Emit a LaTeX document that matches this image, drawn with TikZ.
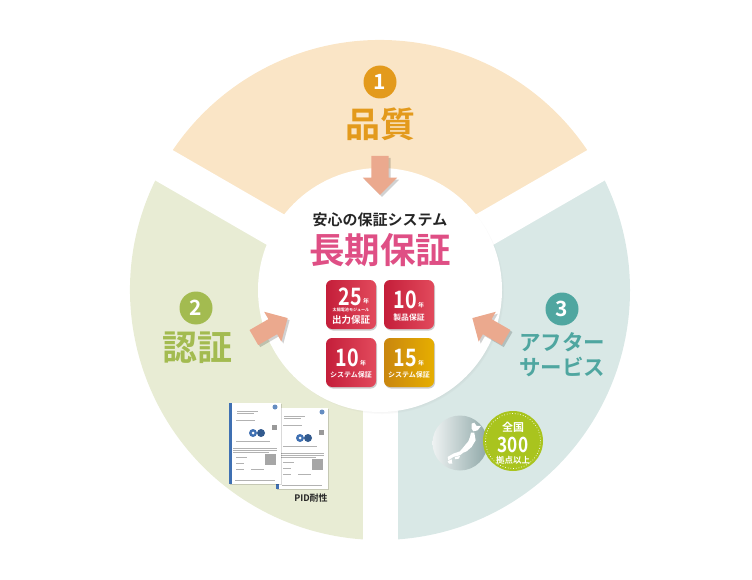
\documentclass[tikz,border=0pt]{standalone}
\usepackage{fontspec}
\usepackage{graphicx}
\setmainfont{Noto Sans CJK JP}[BoldFont=* Bold]
\usetikzlibrary{shapes.arrows,shadows}
\definecolor{topfill}{HTML}{FAE5C6}
\definecolor{leftfill}{HTML}{E8ECD4}
\definecolor{rightfill}{HTML}{D9E8E6}
\definecolor{orangeink}{HTML}{E39A1C}
\definecolor{greenink}{HTML}{A3BB50}
\definecolor{tealink}{HTML}{4FA6A0}
\definecolor{arrowfill}{HTML}{EBA98E}
\definecolor{pinkink}{HTML}{DF4F85}
\definecolor{redlight}{HTML}{E24A5C}
\definecolor{reddark}{HTML}{C41E3A}
\definecolor{goldlight}{HTML}{E6AE00}
\definecolor{golddark}{HTML}{C9860F}
\definecolor{limefill}{HTML}{A9C41E}
\definecolor{certblue}{HTML}{3F70B2}
\definecolor{mapleft}{HTML}{EEF2F2}
\definecolor{mapmid}{HTML}{A9BCBC}
\definecolor{mapright}{HTML}{8FA8A8}
\newcommand{\slimnum}[1]{\scalebox{.82}[1]{#1}}
\tikzset{
    numdisc/.style={circle,minimum size=33pt,inner sep=0pt,text=white,font=\bfseries\fontsize{21}{21}\selectfont},
    bigtitle/.style={inner sep=0pt,font=\bfseries\fontsize{35}{35}\selectfont},
    pusharrow/.style={single arrow,fill=arrowfill,minimum height=39pt,inner xsep=0pt,inner ysep=8.5pt,
        single arrow head extend=8.5pt,single arrow head indent=0pt,
        drop shadow={shadow xshift=2pt,shadow yshift=-2pt,opacity=.18,fill=black}},
    badge/.style={rounded corners=6pt,minimum width=50pt,minimum height=49pt,inner sep=0pt,shading angle=45,
        drop shadow={shadow xshift=1pt,shadow yshift=-1.5pt,opacity=.2,fill=black}},
    redbadge/.style={badge,left color=reddark,right color=redlight},
    goldbadge/.style={badge,left color=golddark,right color=goldlight},
    yearnum/.style={inner sep=0pt,text=white,font=\bfseries\fontsize{24}{24}\selectfont},
    yearmark/.style={inner sep=0pt,text=white,font=\bfseries\fontsize{6}{6}\selectfont},
    badgetext/.style={inner sep=0pt,text=white,font=\bfseries\fontsize{7}{7}\selectfont},
    certline/.style={gray!60,line width=.4pt}
}

\begin{document}
\begin{tikzpicture}[x=1pt,y=-1pt]

    \useasboundingbox (0,0) rectangle (752,580);
    \coordinate (C) at (380,290);

    \fill[topfill] (C) -- +(30:250pt) arc[start angle=30,end angle=150,radius=250pt] -- cycle;
    \fill[leftfill] (C) -- +(150:250pt) arc[start angle=150,end angle=270,radius=250pt] -- cycle;
    \fill[rightfill] (C) -- +(270:250pt) arc[start angle=270,end angle=390,radius=250pt] -- cycle;
    \draw[white,line width=35pt] (C) -- +(30:262pt);
    \draw[white,line width=35pt] (C) -- +(150:262pt);
    \draw[white,line width=35pt] (C) -- +(270:262pt);

    \node (hub) at (C) [circle,fill=white,minimum size=244pt,inner sep=0pt,
        circular drop shadow={shadow xshift=2pt,shadow yshift=-2pt,shadow scale=1.0,opacity=.5}] {};

    \node (one) at (380,82) [numdisc,fill=orangeink] {1};
    \node (quality) at (380,124) [bigtitle,text=orangeink] {品質};
    \node (two) at (196,308) [numdisc,fill=greenink] {2};
    \node (cert) at (197,348) [bigtitle,text=greenink] {認証};
    \node (three) at (562,309) [numdisc,fill=tealink] {3};
    \node (after) at (562,342) [inner sep=0pt,text=tealink,font=\bfseries\fontsize{21.5}{21.5}\selectfont] {アフター};
    \node (service) at (562,367) [inner sep=0pt,text=tealink,font=\bfseries\fontsize{21.5}{21.5}\selectfont] {サービス};

    \node (pushtop) at (380,171) [pusharrow,rotate=-90] {};
    \node (pushleft) at (267,330) [pusharrow,rotate=30] {};
    \node (pushright) at (493,330) [pusharrow,rotate=150] {};

    \node (sub) at (380,220) [inner sep=0pt,text=black!85,font=\bfseries\fontsize{15}{15}\selectfont] {安心の保証システム};
    \node (long) at (380,250) [inner sep=0pt,text=pinkink,font=\bfseries\fontsize{35.5}{35.5}\selectfont] {長期保証};

    \node (boxa) at (351,304.5) [redbadge] {};
    \node (boxb) at (409,304.5) [redbadge] {};
    \node (boxc) at (351,362.5) [redbadge] {};
    \node (boxd) at (409,362.5) [goldbadge] {};

    \node (numa) at (350,297) [yearnum] {\slimnum{25}};
    \node (yeara) at (366,301) [yearmark] {年};
    \node (moda) at (351,310) [badgetext,font=\bfseries\fontsize{4.1}{4.1}\selectfont] {太陽電池モジュール};
    \node (texta) at (351,320) [badgetext,font=\bfseries\fontsize{9.5}{9.5}\selectfont] {出力保証};
    \node (numb) at (405,300) [yearnum] {\slimnum{10}};
    \node (yearb) at (421,305) [yearmark] {年};
    \node (textb) at (409,318) [badgetext,font=\bfseries\fontsize{7.8}{7.8}\selectfont] {製品保証};
    \node (numc) at (347,358) [yearnum] {\slimnum{10}};
    \node (yearc) at (363,363) [yearmark] {年};
    \node (textc) at (351,375) [badgetext] {システム保証};
    \node (numd) at (405,358) [yearnum] {\slimnum{15}};
    \node (yeard) at (421,363) [yearmark] {年};
    \node (textd) at (409,375) [badgetext] {システム保証};

    \foreach \px/\py in {276/408,229/403} {
        \begin{scope}[shift={(\px,\py)}]
            \fill[white,drop shadow={shadow xshift=1pt,shadow yshift=-1pt,opacity=.15,fill=black}] (0,0) rectangle (52,81);
            \fill[certblue] (0,0) rectangle (3,81);
            \fill[certblue!80] (46,4) circle (2.5);
            \draw[certline] (8,8) -- (29,8) (8,10) -- (25,10) (7,17) -- (26,17);
            \fill[gray!80] (43,22) rectangle (48,27);
            \fill[certblue] (24,30) circle (4);
            \fill[certblue!80!black] (32,30) circle (4);
            \fill[white] (24,30) circle (1.5);
            \draw[certline] (7,38) -- (41,38) (4,45) -- (48,45) (4,47) -- (48,47) (4,49) -- (40,49);
            \fill[gray!70] (36,51) rectangle (47,62);
            \draw[certline] (7,54) -- (18,54) (7,60) -- (15,60) (7,66) -- (15,66) (22,66) -- (35,66) (6,77) -- (46,77);
        \end{scope}
    }
    \node (pid) at (311,498) [inner sep=0pt,text=black!85,font=\bfseries\fontsize{9}{9}\selectfont] {PID耐性};

    \node (mapdisc) at (460,443) [circle,minimum size=55pt,inner sep=0pt,left color=mapleft,middle color=mapmid,right color=mapright] {};
    \begin{scope}[shift={(435,412)},x=.333pt,y=-.333pt]
        \fill[white] (110,35) -- (118,32) -- (125,42) -- (138,42) -- (128,55) -- (115,58) -- (110,50) -- cycle;
        \fill[white] (108,62) -- (118,62) -- (122,85) -- (110,105) -- (95,118) -- (85,122) -- (75,130) -- (55,135)
            -- (40,145) -- (38,135) -- (55,125) -- (75,118) -- (90,100) -- (100,88) -- (105,75) -- cycle;
        \fill[white] (38,148) -- (50,142) -- (52,155) -- (42,155) -- cycle;
        \fill[white] (60,135) -- (75,132) -- (72,140) -- (60,142) -- cycle;
    \end{scope}
    \node (limedisc) at (513,441) [circle,fill=limefill,minimum size=60pt,inner sep=0pt] {};
    \draw[white,dotted,line width=.7pt] (limedisc.center) circle (27.5pt);
    \node (whole) at (513,427.5) [inner sep=0pt,text=white,font=\bfseries\fontsize{11}{11}\selectfont] {全国};
    \node (count) at (513,444.5) [inner sep=0pt,text=white,font=\bfseries\fontsize{21}{21}\selectfont] {\slimnum{300}};
    \node (bases) at (513,460) [inner sep=0pt,text=white,font=\bfseries\fontsize{8.5}{8.5}\selectfont] {拠点以上};

\end{tikzpicture}
\end{document}
